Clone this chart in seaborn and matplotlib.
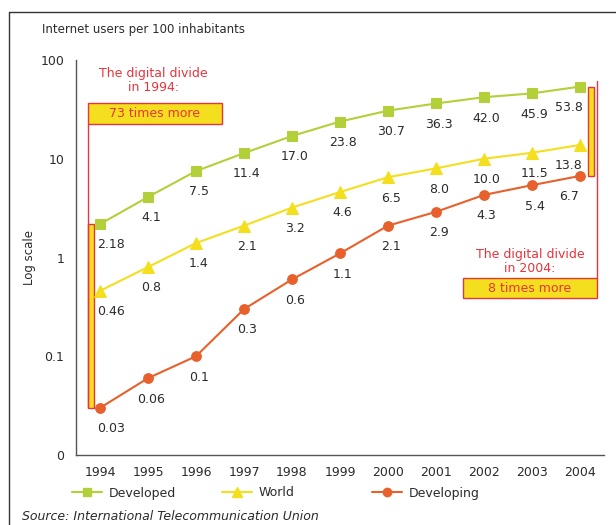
"""Internet users per 100 inhabitants, 1994-2004, log scale."""

import matplotlib
matplotlib.use("Agg")
import matplotlib.pyplot as plt
import matplotlib.transforms as mtransforms
from matplotlib.patches import Rectangle
from matplotlib.lines import Line2D
import numpy as np
import pandas as pd
import seaborn as sns

years = list(range(1994, 2005))
developed = [2.18, 4.1, 7.5, 11.4, 17.0, 23.8, 30.7, 36.3, 42.0, 45.9, 53.8]
world = [0.46, 0.8, 1.4, 2.1, 3.2, 4.6, 6.5, 8.0, 10.0, 11.5, 13.8]
developing = [0.03, 0.06, 0.1, 0.3, 0.6, 1.1, 2.1, 2.9, 4.3, 5.4, 6.7]

developed_labels = ["2.18", "4.1", "7.5", "11.4", "17.0", "23.8", "30.7", "36.3", "42.0", "45.9", "53.8"]
world_labels = ["0.46", "0.8", "1.4", "2.1", "3.2", "4.6", "6.5", "8.0", "10.0", "11.5", "13.8"]
developing_labels = ["0.03", "0.06", "0.1", "0.3", "0.6", "1.1", "2.1", "2.9", "4.3", "5.4", "6.7"]

series_names = ["Developed", "World", "Developing"]
y_ticks = [0.01, 0.1, 1, 10, 100]
y_tick_labels = ["0", "0.1", "1", "10", "100"]

colors = {"Developed": "#b3cf3a", "World": "#f3df1e", "Developing": "#e8602c"}
markers = {"Developed": "s", "World": "^", "Developing": "o"}
marker_sizes = {"Developed": 7, "World": 8.5, "Developing": 7}
RED = "#e8343a"
YELLOW = "#f3df1e"
TEXT = "#2b2b2b"

df = pd.DataFrame({
    "year": years * 3,
    "value": developed + world + developing,
    "series": [s for s in series_names for _ in years],
})

sns.set_style("white")
plt.rcParams["font.family"] = ["DejaVu Sans"]

fig = plt.figure(figsize=(6.16, 5.25), dpi=100)
ax = fig.add_axes([0.1234, 0.1333, 0.857, 0.7524])

for name in series_names:
    sub = df[df["series"] == name]
    sns.lineplot(
        data=sub, x="year", y="value", ax=ax, color=colors[name],
        marker=markers[name], markersize=marker_sizes[name],
        markeredgecolor=colors[name], linewidth=1.5, legend=False,
    )

ax.set_yscale("log")
ax.set_ylim(0.01, 100)
ax.set_xlim(1993.5, 2004.5)
ax.set_yticks(y_ticks)
ax.set_yticklabels(y_tick_labels)
ax.yaxis.set_minor_locator(matplotlib.ticker.NullLocator())
ax.set_xticks(years)
ax.set_xticklabels([str(y) for y in years])
ax.set_xticks(np.arange(1993.5, 2005, 1.0), minor=True)
ax.tick_params(axis="x", which="major", length=0, pad=8, labelsize=9, colors=TEXT)
ax.tick_params(axis="x", which="minor", length=5, width=1, color="#555555", direction="out")
ax.tick_params(axis="y", which="major", length=5, width=1, color="#555555",
               direction="out", labelsize=9, labelcolor=TEXT)
for side in ["top", "right"]:
    ax.spines[side].set_visible(False)
for side in ["left", "bottom"]:
    ax.spines[side].set_color("#555555")
    ax.spines[side].set_linewidth(1)
ax.set_xlabel("")
ax.set_ylabel("Log scale", fontsize=8.5, color=TEXT, labelpad=3)

# data labels below the markers
all_labels = [developed_labels, world_labels, developing_labels]
all_values = [developed, world, developing]
for vals, labs in zip(all_values, all_labels):
    for i, (yr, v, lab) in enumerate(zip(years, vals, labs)):
        dx = 8 if i == 0 else (-8 if i == len(years) - 1 else 2)
        ax.annotate(lab, (yr, v), xytext=(dx, -15), textcoords="offset points",
                    ha="center", va="center", fontsize=9, color=TEXT)

# digital divide brackets
blend = mtransforms.blended_transform_factory(ax.transAxes, ax.transData)

# 1994
ax.add_patch(Rectangle((0.0227, developing[0]), 0.011, developed[0] - developing[0],
                       transform=blend, facecolor=YELLOW, edgecolor=RED,
                       linewidth=1, clip_on=False, zorder=1))
ax.plot([0.0227, 0.0227], [0.1215, 0.838], transform=ax.transAxes, color=RED,
        linewidth=1, clip_on=False, zorder=1)
ax.add_patch(Rectangle((0.0227, 0.838), 0.254, 0.053, transform=ax.transAxes,
                       facecolor=YELLOW, edgecolor=RED, linewidth=1, clip_on=False))
ax.text(0.149, 0.8645, "73 times more", transform=ax.transAxes, ha="center",
        va="center", fontsize=9, color=RED)
ax.text(0.146, 0.949, "The digital divide\nin 1994:", transform=ax.transAxes,
        ha="center", va="center", fontsize=9, color=RED, linespacing=1.1)

# 2004
ax.add_patch(Rectangle((0.970, developing[-1]), 0.012, developed[-1] - developing[-1],
                       transform=blend, facecolor=YELLOW, edgecolor=RED,
                       linewidth=1, clip_on=False, zorder=1))
ax.plot([0.9867, 0.9867], [0.448, 0.947], transform=ax.transAxes, color=RED,
        linewidth=1, clip_on=False, zorder=1)
ax.add_patch(Rectangle((0.733, 0.397), 0.2537, 0.051, transform=ax.transAxes,
                       facecolor=YELLOW, edgecolor=RED, linewidth=1, clip_on=False))
ax.text(0.86, 0.4225, "8 times more", transform=ax.transAxes, ha="center",
        va="center", fontsize=9, color=RED)
ax.text(0.86, 0.491, "The digital divide\nin 2004:", transform=ax.transAxes,
        ha="center", va="center", fontsize=9, color=RED, linespacing=1.1)

# legend: one entry each, placed like the original
legend_x = {"Developed": 72 / 616, "World": 222 / 616, "Developing": 372 / 616}
for name in series_names:
    handle = Line2D([0], [0], color=colors[name], marker=markers[name],
                    markersize=marker_sizes[name] - 1, markeredgecolor=colors[name],
                    linewidth=1.5)
    fig.legend([handle], [name], loc="center left",
               bbox_to_anchor=(legend_x[name], (525 - 493) / 525),
               frameon=False, fontsize=9, handlelength=2.4, handletextpad=0.55,
               borderpad=0, borderaxespad=0, labelcolor=TEXT)

# title, source, frame
fig.text(0.068, (525 - 30) / 525, "Internet users per 100 inhabitants", fontsize=8.5,
         color=TEXT, va="center")
fig.text(0.036, (525 - 517) / 525, "Source: International Telecommunication Union",
         fontsize=9, style="italic", color=TEXT, va="center")
fig.add_artist(Line2D([0.0146, 0.0146], [0.0, 0.977], transform=fig.transFigure,
                      color="#333333", linewidth=1))
fig.add_artist(Line2D([0.0146, 1.0], [0.977, 0.977], transform=fig.transFigure,
                      color="#333333", linewidth=1))

fig.savefig("out.png", dpi=100, facecolor="white")
plt.close(fig)
